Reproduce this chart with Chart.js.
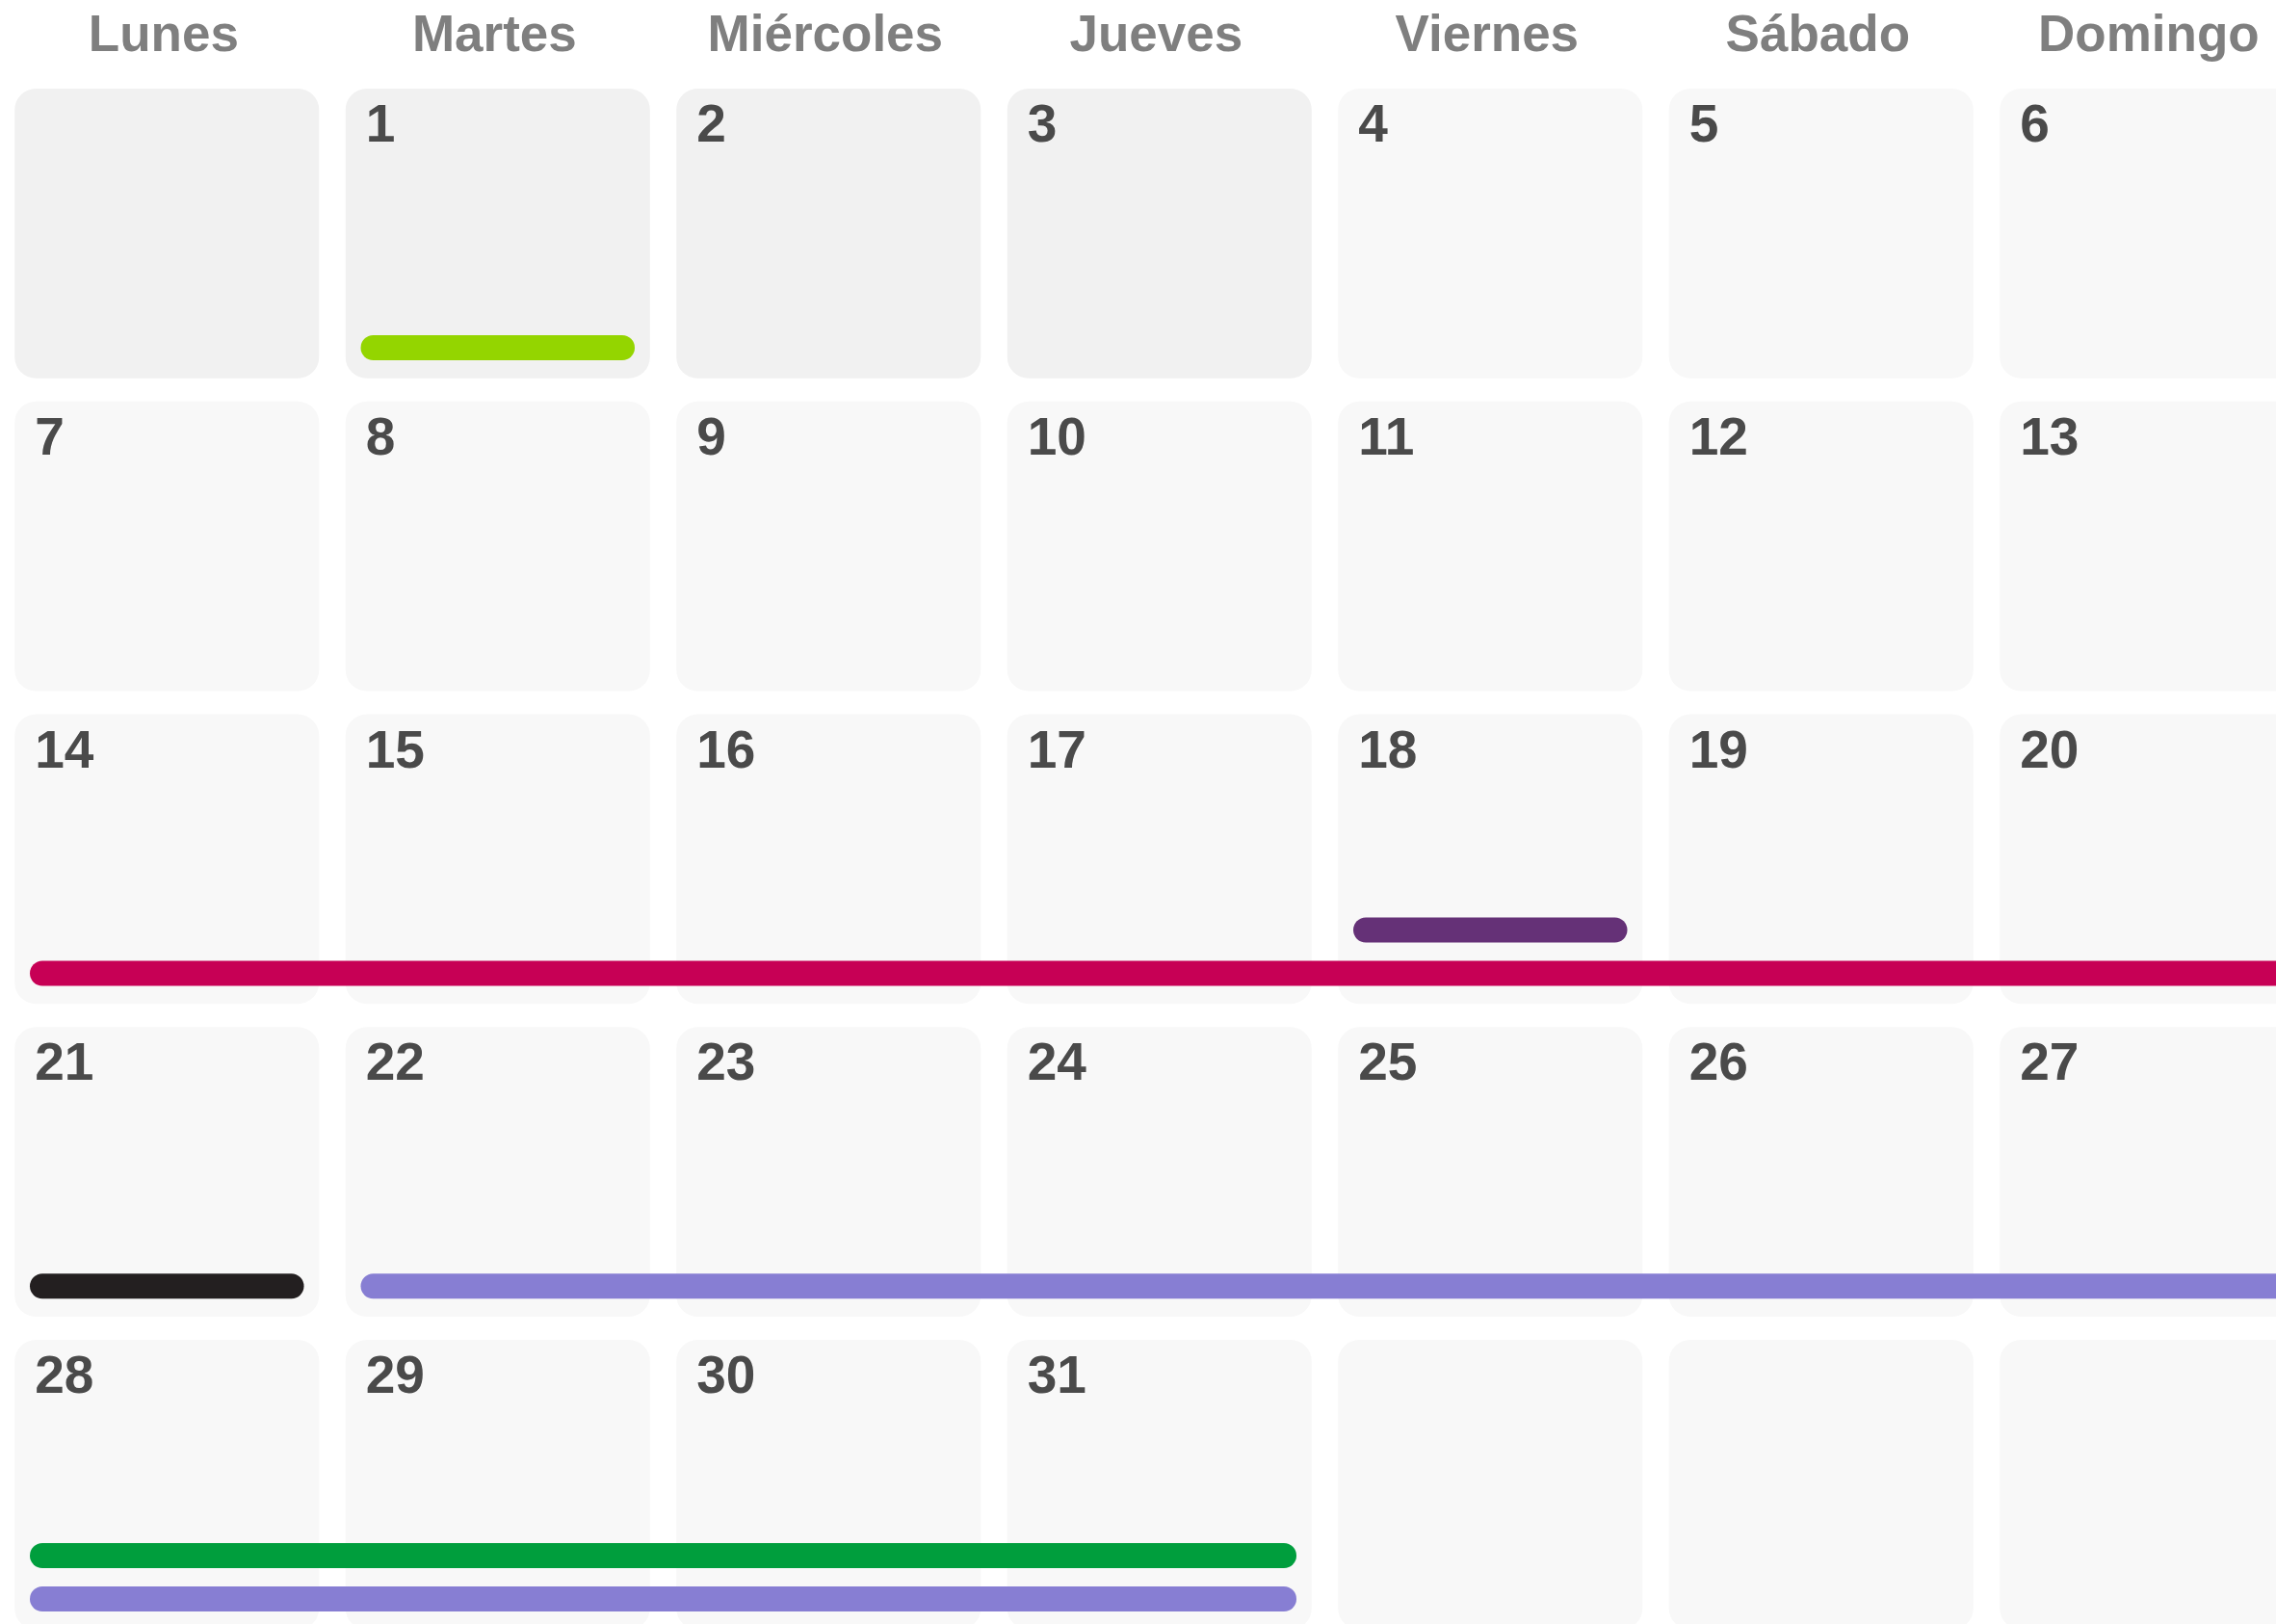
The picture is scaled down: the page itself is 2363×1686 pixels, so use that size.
<!DOCTYPE html>
<html>
<head>
<meta charset="utf-8">
<script src="https://cdn.jsdelivr.net/npm/chart.js@4.4.1/dist/chart.umd.min.js"></script>
<style>
html, body { margin: 0; padding: 0; background: #fff; }
#chart { display: block; }
</style>
</head>
<body>
<canvas id="chart" width="2363" height="1686"></canvas>
<script>
// month grid
var dayNames = ['Lunes', 'Martes', 'Miércoles', 'Jueves', 'Viernes', 'Sábado', 'Domingo'];
var firstWeekday = 1;   // day 1 falls on Martes
var daysInMonth = 31;
var weeks = 5;
var today = 4;          // days before this are shaded

// events (day of month)
var eventStart = [1, 14, 18, 21, 22, 28];
var eventEnd   = [1, 20, 18, 21, 31, 31];
var eventLane  = [0, 0, 1, 0, 0, 1];
var eventColors = ['#94d500', '#c70055', '#653177', '#231f20', '#877ed3', '#009e3d'];

// layout in scale units
var rowGap = 12 / 324.75;
var laneTop = 281 / 324.75;
var laneGap = 45 / 324.75;
var capIn = 0.1237, capOut = 0.8763;

function cellOf(day) {
    var i = day - 1 + firstWeekday;
    return { col: i % 7, row: Math.floor(i / 7) };
}

var cellData = [], cellColors = [], cellDays = [];
for (var w = 0; w < weeks; w++) {
    for (var c = 0; c < 7; c++) {
        var day = w * 7 + c - firstWeekday + 1;
        cellData.push({ x: c + 0.5, y: [w + rowGap, w + 1 - rowGap] });
        cellDays.push(day >= 1 && day <= daysInMonth ? String(day) : '');
        cellColors.push(day < today ? '#f1f1f1' : '#f8f8f8');
    }
}

var datasets = [{
    type: 'bar',
    label: 'días',
    data: cellData,
    backgroundColor: cellColors,
    borderRadius: 22,
    borderSkipped: false,
    inflateAmount: 0,
    categoryPercentage: 0.92,
    barPercentage: 1,
    order: 1
}];

eventStart.forEach(function(s, k) {
    var a = s;
    while (a <= eventEnd[k]) {
        var p = cellOf(a);
        var last = Math.min(eventEnd[k], a + (6 - p.col));
        var q = cellOf(last);
        var y = p.row + laneTop - eventLane[k] * laneGap;
        datasets.push({
            type: 'line',
            data: [{ x: p.col + capIn, y: y }, { x: q.col + capOut, y: y }],
            borderColor: eventColors[k],
            borderWidth: 26,
            borderCapStyle: 'round',
            pointRadius: 0,
            fill: false,
            tension: 0,
            order: 0
        });
        a = last + 1;
    }
});

var dayNumbers = {
    id: 'dayNumbers',
    afterDatasetsDraw: function(chart) {
        var ctx = chart.ctx;
        var meta = chart.getDatasetMeta(0);
        ctx.save();
        ctx.fillStyle = '#4a4a4a';
        ctx.font = 'bold 55px "Liberation Sans"';
        ctx.textBaseline = 'alphabetic';
        ctx.textAlign = 'left';
        meta.data.forEach(function(el, i) {
            if (!cellDays[i]) return;
            var p = el.getProps(['x', 'y', 'base', 'width'], true);
            var top = Math.min(p.y, p.base);
            ctx.fillText(cellDays[i], p.x - p.width / 2 + 21, top + 55);
        });
        ctx.restore();
    }
};

var options = {
    responsive: false,
    animation: false,
    devicePixelRatio: 1,
    events: [],
    layout: { padding: 0 },
    scales: {
        x: {
            type: 'linear',
            position: 'top',
            min: -0.0044,
            max: 6.8748,
            offset: false,
            bounds: 'data',
            grid: { display: false, drawTicks: false },
            border: { display: false },
            afterBuildTicks: function(axis) {
                axis.ticks = dayNames.map(function(n, i) { return { value: i + 0.49 }; });
            },
            afterFit: function(axis) { axis.height = 80; },
            ticks: {
                autoSkip: false,
                maxRotation: 0,
                padding: 10,
                color: '#7f7f7f',
                font: { family: 'Liberation Sans', size: 53, weight: 'bold' },
                callback: function(value, index) { return dayNames[index]; }
            }
        },
        y: {
            type: 'linear',
            display: false,
            reverse: true,
            min: 0,
            max: 4.9453
        }
    },
    plugins: {
        legend: { display: false },
        tooltip: { enabled: false },
        title: { display: false }
    }
};

var ctx = document.getElementById('chart').getContext('2d');
var chart = new Chart(ctx, {
    type: 'bar',
    data: { datasets: datasets },
    options: options,
    plugins: [dayNumbers]
});
</script>
</body>
</html>
